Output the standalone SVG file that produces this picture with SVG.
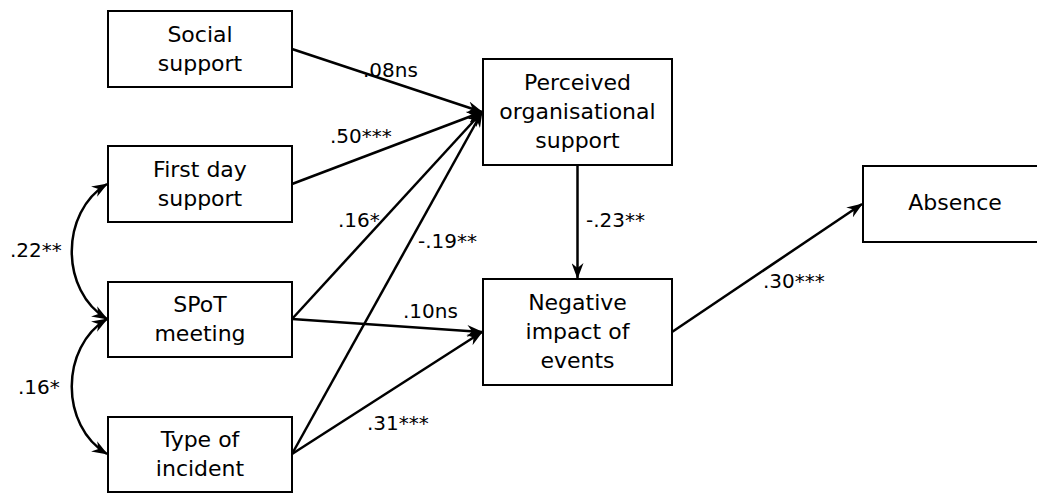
<svg xmlns="http://www.w3.org/2000/svg" width="1037" height="494" viewBox="0 0 1037 494">
<style>
.box{fill:#fff;stroke:#000;stroke-width:2}
.t{font-family:"DejaVu Sans",sans-serif;font-size:22px;fill:#000;text-anchor:middle}
.l{font-family:"DejaVu Sans",sans-serif;font-size:20px;fill:#000}
.c{fill:none;stroke:#000;stroke-width:2.5}
</style>
<defs>
<marker id="ah" viewBox="0 0 16 12" refX="15" refY="6" markerWidth="16" markerHeight="12" markerUnits="userSpaceOnUse" orient="auto-start-reverse">
<path d="M0,0 L16,6 L0,12 L5,6 Z" fill="#000"/>
</marker>
</defs>
<rect width="1037" height="494" fill="#fff"/>
<g id="connectors">
<line class="c" x1="292" y1="49" x2="482" y2="112" marker-end="url(#ah)"/>
<line class="c" x1="292" y1="184" x2="482" y2="112" marker-end="url(#ah)"/>
<line class="c" x1="292" y1="319" x2="482" y2="112" marker-end="url(#ah)"/>
<line class="c" x1="292" y1="454" x2="482" y2="112" marker-end="url(#ah)"/>
<line class="c" x1="292" y1="319" x2="482" y2="332" marker-end="url(#ah)"/>
<line class="c" x1="292" y1="454" x2="482" y2="332" marker-end="url(#ah)"/>
<line class="c" x1="577.5" y1="165" x2="577.5" y2="278" marker-end="url(#ah)"/>
<line class="c" x1="672" y1="332" x2="862" y2="204" marker-end="url(#ah)"/>
<path class="c" d="M107,184 C60,212 60,291 107,319" marker-start="url(#ah)" marker-end="url(#ah)"/>
<path class="c" d="M107,319 C60,347 60,426 107,454" marker-start="url(#ah)" marker-end="url(#ah)"/>
</g>
<g id="labels">
<text class="l" x="363" y="77">.08ns</text>
<text class="l" x="330" y="143">.50***</text>
<text class="l" x="338" y="227">.16*</text>
<text class="l" x="418" y="248">-.19**</text>
<text class="l" x="403" y="318">.10ns</text>
<text class="l" x="367" y="430">.31***</text>
<text class="l" x="586" y="227">-.23**</text>
<text class="l" x="763" y="288">.30***</text>
<text class="l" x="10" y="257">.22**</text>
<text class="l" x="18" y="394">.16*</text>
</g>
<g id="social">
<rect class="box" x="108" y="11" width="184" height="76"/>
<text class="t" x="200" y="42">Social</text>
<text class="t" x="200" y="71">support</text>
</g>
<g id="firstday">
<rect class="box" x="108" y="146" width="184" height="76"/>
<text class="t" x="200" y="177">First day</text>
<text class="t" x="200" y="206">support</text>
</g>
<g id="spot">
<rect class="box" x="108" y="282" width="184" height="75"/>
<text class="t" x="200" y="312">SPoT</text>
<text class="t" x="200" y="341">meeting</text>
</g>
<g id="incident">
<rect class="box" x="108" y="417" width="184" height="75"/>
<text class="t" x="200" y="447">Type of</text>
<text class="t" x="200" y="476">incident</text>
</g>
<g id="pos">
<rect class="box" x="483" y="59" width="189" height="106"/>
<text class="t" x="577.5" y="90">Perceived</text>
<text class="t" x="577.5" y="119">organisational</text>
<text class="t" x="577.5" y="148">support</text>
</g>
<g id="negative">
<rect class="box" x="483" y="279" width="189" height="106"/>
<text class="t" x="577.5" y="310">Negative</text>
<text class="t" x="577.5" y="339">impact of</text>
<text class="t" x="577.5" y="368">events</text>
</g>
<g id="absence">
<rect class="box" x="863" y="166" width="184" height="76"/>
<text class="t" x="955" y="210">Absence</text>
</g>
</svg>
